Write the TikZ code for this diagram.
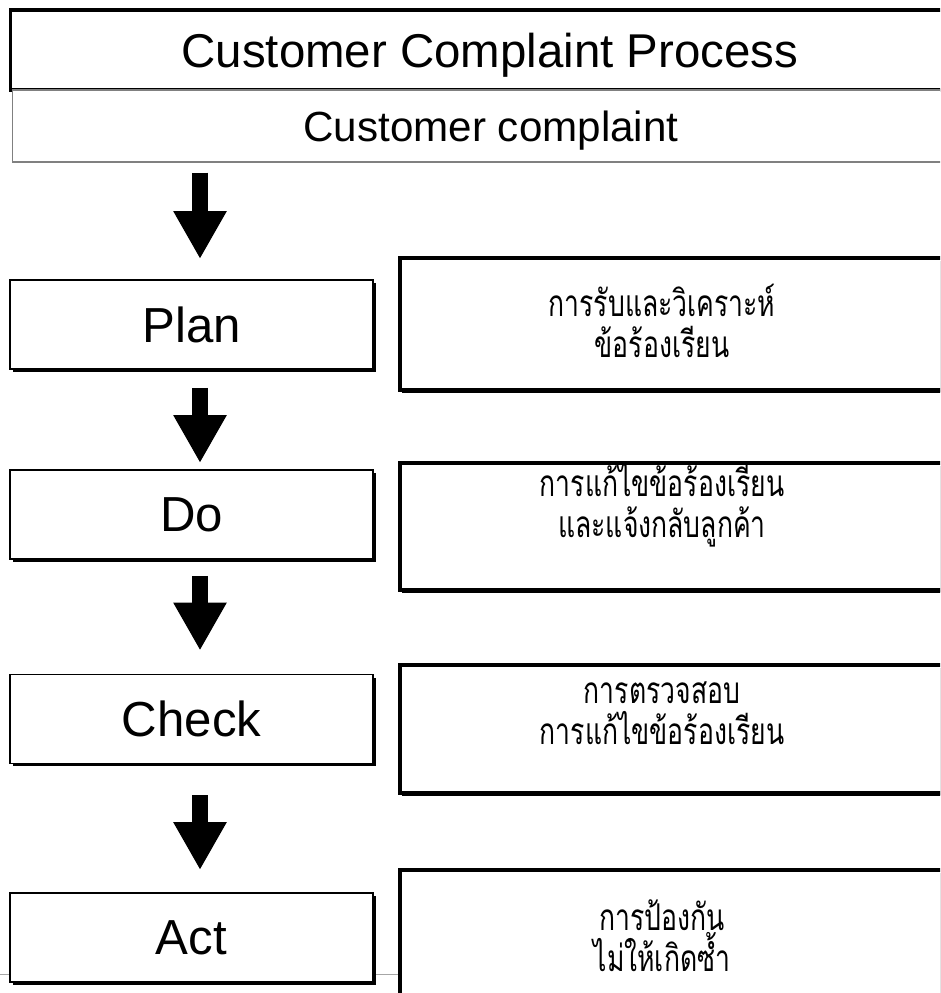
\documentclass[tikz,border=0pt]{standalone}
\usepackage{fontspec}
\setsansfont{Liberation Sans}
\newfontfamily\thaifont[Script=Thai,FakeStretch=0.72]{Loma}
\usetikzlibrary{arrows.meta,shadows,calc}

\begin{document}
\begin{tikzpicture}[
x=0.02cm, y=0.02cm,
head/.style={draw, rectangle, fill=white, inner sep=0pt, font=\sffamily},
stepbox/.style={draw, rectangle, fill=white, line width=1.1pt, minimum width=7.26cm,
              minimum height=1.78cm, inner sep=0pt, font=\sffamily\fontsize{28}{32}\selectfont,
              drop shadow={shadow xshift=0.06cm, shadow yshift=-0.06cm, fill=black, opacity=1}},
notebox/.style={draw, rectangle, fill=white, line width=1.8pt, minimum width=11.6cm, inner sep=0pt,
              drop shadow={shadow xshift=0.03cm, shadow yshift=-0.06cm, fill=black, opacity=1}},
notetxt/.style={align=center, inner sep=0pt, font=\thaifont\fontsize{21}{23.5}\selectfont},
flow/.style={line width=0.32cm, -{Triangle[width=1.0cm, length=0.96cm]}},
]
\path[use as bounding box, clip] (0,0) rectangle (940,993);

% footer rule behind the last row
\draw[gray!70, line width=0.5pt] (0,19) -- (400,19);

% heading
\node[head, line width=1.8pt, minimum width=19.2cm, minimum height=1.6cm, text depth=0pt,
      font=\sffamily\fontsize{27}{30}\selectfont] (title) at (490,943) {Customer Complaint Process};
\node[head, draw=gray, line width=0.6pt, minimum width=19.16cm, minimum height=1.44cm, text depth=0pt,
      font=\sffamily\fontsize{24}{28}\selectfont] (sub) at (491,867) {Customer complaint};

% PDCA steps
\node[stepbox] (plan) at (191.5,668.5) {Plan};
\node[stepbox] (do) at (191.5,478.5) {Do};
\node[stepbox] (check) at (191.5,274) {Check};
\node[stepbox] (act) at (191.5,55.5) {Act};

% notes on the right
\node[notebox, minimum height=2.64cm] (plannote) at (690,669) {};
\node[notebox, minimum height=2.54cm] (donote) at (690,466.5) {};
\node[notebox, minimum height=2.56cm] (checknote) at (690,264) {};
\node[notebox, minimum height=2.8cm] (actnote) at (690,53) {};

\node[notetxt] (plantxt) at (662,672) {การรับและวิเคราะห์\\ข้อร้องเรียน};
\node[notetxt] (dotxt) at (662,488) {การแก้ไขข้อร้องเรียน\\และแจ้งกลับลูกค้า};
\node[notetxt] (checktxt) at (662,280) {การตรวจสอบ\\การแก้ไขข้อร้องเรียน};
\node[notetxt] (acttxt) at (662,57) {การป้องกัน\\ไม่ให้เกิดซ้ำ};

% block arrows
\draw[flow] ($(sub.south -| plan.north)+(8.5,-10)$) -- ($(plan.north)+(8.5,20)$);
\draw[flow] ($(plan.south)+(8.5,-18)$) -- ($(do.north)+(8.5,6)$);
\draw[flow] ($(do.south)+(8.5,-16)$) -- ($(check.north)+(8.5,23)$);
\draw[flow] ($(check.south)+(8.5,-31)$) -- ($(act.north)+(8.5,22)$);
\end{tikzpicture}
\end{document}
